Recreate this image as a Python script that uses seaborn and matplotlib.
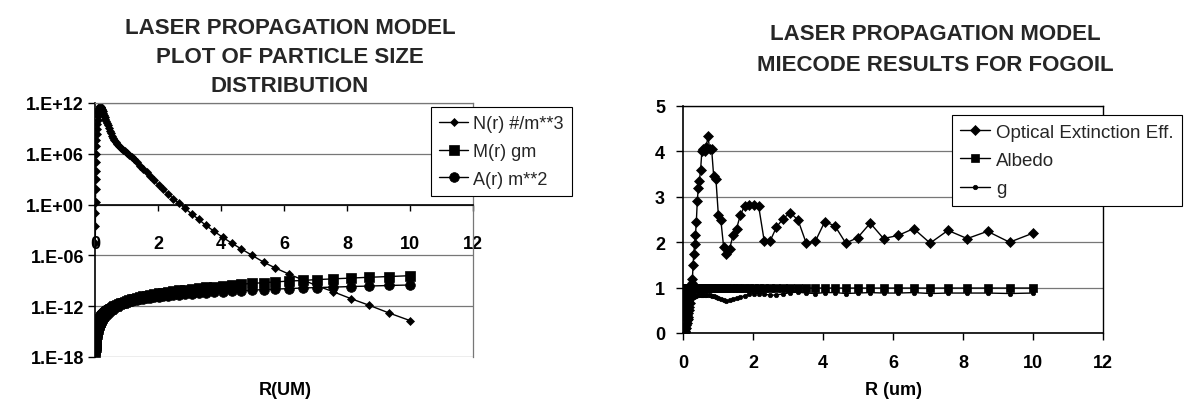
import matplotlib
matplotlib.use("Agg")
import matplotlib.pyplot as plt
import matplotlib.ticker as mticker
import pandas as pd
import seaborn as sns

sns.set_theme(style="white")
plt.rcParams["font.family"] = ["Liberation Sans", "DejaVu Sans"]

# ---------------- data ----------------
r_um = [0.010, 0.012, 0.014, 0.016, 0.019, 0.022, 0.025, 0.029, 0.034, 0.039,
        0.045, 0.052, 0.060, 0.069, 0.080, 0.092, 0.101, 0.109, 0.117, 0.125,
        0.134, 0.144, 0.154, 0.165, 0.177, 0.190, 0.203, 0.218, 0.234, 0.251,
        0.269, 0.288, 0.309, 0.331, 0.355, 0.381, 0.408, 0.437, 0.469, 0.503,
        0.539, 0.578, 0.619, 0.664, 0.712, 0.763, 0.818, 0.877, 0.940, 1.010,
        1.08, 1.16, 1.24, 1.33, 1.43, 1.53, 1.64, 1.76, 1.88, 2.02,
        2.16, 2.32, 2.49, 2.67, 2.86, 3.07, 3.29, 3.52, 3.78, 4.05,
        4.34, 4.65, 4.99, 5.35, 5.73, 6.15, 6.59, 7.06, 7.57, 8.12,
        8.70, 9.33, 10.0]

N_per_m3 = [3.2e-5, 3.2e-3, 0.1, 2.0, 63, 1.0e3, 1.0e4, 1.0e5, 1.0e6, 7.9e6,
            4.0e7, 2.0e8, 7.9e8, 3.2e9, 1.0e10, 3.2e10, 6.3e10, 1.0e11, 1.6e11, 2.2e11,
            2.8e11, 3.5e11, 4.0e11, 4.0e11, 3.5e11, 3.2e11, 2.5e11, 2.0e11, 1.4e11, 1.0e11,
            6.3e10, 4.0e10, 2.5e10, 1.4e10, 7.9e9, 4.5e9, 2.5e9, 1.1e9, 5.0e8, 2.5e8,
            1.3e8, 7.1e7, 4.0e7, 2.2e7, 1.3e7, 7.9e6, 5.0e6, 3.2e6, 2.2e6, 1.4e6,
            7.9e5, 4.5e5, 2.2e5, 1.0e5, 4.0e4, 1.6e4, 6.3e3, 2.2e3, 7.9e2, 2.0e2,
            63, 18, 5.0, 1.4, 0.35, 0.079, 0.018, 3.5e-3, 7.1e-4, 1.4e-4,
            2.8e-5, 5.6e-6, 1.0e-6, 1.6e-7, 3.2e-8, 6.3e-9, 1.3e-9, 2.5e-10, 5.0e-11, 7.9e-12,
            1.3e-12, 1.6e-13, 2.0e-14]

M_gm = [4.0e-18, 6.9e-18, 1.1e-17, 1.6e-17, 2.8e-17, 4.3e-17, 6.2e-17, 9.8e-17, 1.5e-16, 2.3e-16,
        3.6e-16, 5.6e-16, 8.5e-16, 1.3e-15, 2.0e-15, 3.1e-15, 4.1e-15, 5.1e-15, 6.3e-15, 7.8e-15,
        9.5e-15, 1.2e-14, 1.4e-14, 1.8e-14, 2.2e-14, 2.8e-14, 3.3e-14, 4.1e-14, 5.1e-14, 6.3e-14,
        7.8e-14, 9.5e-14, 1.2e-13, 1.4e-13, 1.8e-13, 2.2e-13, 2.7e-13, 3.3e-13, 4.1e-13, 5.1e-13,
        6.3e-13, 7.8e-13, 9.5e-13, 1.2e-12, 1.4e-12, 1.8e-12, 2.2e-12, 2.7e-12, 3.3e-12, 4.1e-12,
        5.0e-12, 6.2e-12, 7.6e-12, 9.3e-12, 1.2e-11, 1.4e-11, 1.8e-11, 2.2e-11, 2.6e-11, 3.3e-11,
        4.0e-11, 5.0e-11, 6.2e-11, 7.6e-11, 9.3e-11, 1.1e-10, 1.4e-10, 1.7e-10, 2.1e-10, 2.6e-10,
        3.2e-10, 4.0e-10, 4.9e-10, 6.0e-10, 7.4e-10, 9.3e-10, 1.1e-9, 1.4e-9, 1.7e-9, 2.1e-9,
        2.6e-9, 3.2e-9, 4.0e-9]

A_m2 = [3.2e-16, 4.6e-16, 6.2e-16, 8.1e-16, 1.1e-15, 1.5e-15, 2.0e-15, 2.6e-15, 3.6e-15, 4.8e-15,
        6.4e-15, 8.5e-15, 1.1e-14, 1.5e-14, 2.0e-14, 2.7e-14, 3.2e-14, 3.7e-14, 4.3e-14, 4.9e-14,
        5.6e-14, 6.5e-14, 7.5e-14, 8.6e-14, 9.8e-14, 1.1e-13, 1.3e-13, 1.5e-13, 1.7e-13, 2.0e-13,
        2.3e-13, 2.6e-13, 3.0e-13, 3.4e-13, 4.0e-13, 4.6e-13, 5.2e-13, 6.0e-13, 6.9e-13, 7.9e-13,
        9.1e-13, 1.05e-12, 1.2e-12, 1.4e-12, 1.6e-12, 1.8e-12, 2.1e-12, 2.4e-12, 2.8e-12, 3.2e-12,
        3.7e-12, 4.2e-12, 4.8e-12, 5.6e-12, 6.4e-12, 7.4e-12, 8.5e-12, 9.8e-12, 1.1e-11, 1.3e-11,
        1.5e-11, 1.7e-11, 1.9e-11, 2.2e-11, 2.6e-11, 3.0e-11, 3.4e-11, 3.9e-11, 4.5e-11, 5.2e-11,
        6.0e-11, 6.8e-11, 7.9e-11, 9.1e-11, 1.05e-10, 1.2e-10, 1.4e-10, 1.6e-10, 1.8e-10, 2.1e-10,
        2.4e-10, 2.8e-10, 3.2e-10]

Q_ext = [0.0, 0.0, 0.0, 0.0, 0.0, 0.0, 0.0, 0.0, 0.01, 0.01,
         0.02, 0.03, 0.05, 0.08, 0.12, 0.18, 0.23, 0.28, 0.33, 0.39,
         0.30, 0.36, 0.43, 0.50, 0.58, 0.67, 0.77, 0.88, 1.00, 1.10,
         1.20, 1.50, 1.75, 1.95, 2.15, 2.45, 2.90, 3.20, 3.35, 3.60,
         4.00, 4.05, 4.00, 4.10, 4.33, 4.05, 4.05, 3.45, 3.40, 2.60,
         2.50, 1.90, 1.75, 1.85, 2.15, 2.30, 2.60, 2.80, 2.82, 2.82,
         2.80, 2.03, 2.03, 2.33, 2.52, 2.65, 2.48, 1.98, 2.02, 2.45,
         2.36, 1.98, 2.10, 2.42, 2.08, 2.15, 2.30, 1.98, 2.26, 2.08,
         2.24, 2.00, 2.20]

albedo = [0.45, 0.55, 0.62, 0.68, 0.75, 0.80, 0.85, 0.89, 0.92, 0.94,
          0.96, 0.97, 0.98, 0.985, 0.99, 0.99, 1.0, 1.0, 1.0, 1.0,
          1.0, 1.0, 1.0, 1.0, 1.0, 1.0, 1.0, 1.0, 1.0, 1.0,
          1.0, 1.0, 1.0, 1.0, 1.0, 1.0, 1.0, 1.0, 1.0, 1.0,
          1.0, 1.0, 1.0, 1.0, 1.0, 1.0, 1.0, 1.0, 1.0, 1.0,
          1.0, 1.0, 1.0, 1.0, 1.0, 0.995, 0.995, 0.995, 0.995, 0.995,
          0.995, 0.995, 0.99, 0.99, 0.99, 0.99, 0.99, 0.99, 0.99, 0.99,
          0.99, 0.99, 0.99, 0.99, 0.99, 0.99, 0.99, 0.99, 0.99, 0.99,
          0.99, 0.99, 0.99]

g_asym = [0.0, 0.0, 0.0, 0.0, 0.0, 0.0, 0.0, 0.0, 0.01, 0.01,
          0.02, 0.03, 0.04, 0.06, 0.08, 0.11, 0.14, 0.17, 0.21, 0.25,
          0.30, 0.36, 0.45, 0.52, 0.58, 0.64, 0.68, 0.72, 0.74, 0.76,
          0.78, 0.79, 0.80, 0.81, 0.82, 0.82, 0.83, 0.83, 0.83, 0.84,
          0.84, 0.84, 0.84, 0.84, 0.84, 0.83, 0.82, 0.81, 0.79, 0.77,
          0.75, 0.73, 0.71, 0.72, 0.74, 0.77, 0.79, 0.82, 0.85, 0.87,
          0.87, 0.86, 0.83, 0.84, 0.86, 0.89, 0.90, 0.88, 0.87, 0.89,
          0.89, 0.87, 0.88, 0.89, 0.88, 0.88, 0.89, 0.87, 0.88, 0.88,
          0.88, 0.87, 0.88]

x_ticks = [0, 2, 4, 6, 8, 10, 12]
left_yticks = [1e-18, 1e-12, 1e-6, 1e0, 1e6, 1e12]
left_ytick_labels = ["1.E-18", "1.E-12", "1.E-06", "1.E+00", "1.E+06", "1.E+12"]
right_yticks = [0, 1, 2, 3, 4, 5]

left_title = "LASER PROPAGATION MODEL\nPLOT OF PARTICLE SIZE\nDISTRIBUTION"
right_title = "LASER PROPAGATION MODEL\nMIECODE RESULTS FOR FOGOIL"

# ---------------- figure ----------------
W, H = 1202, 406
fig = plt.figure(figsize=(W / 100, H / 100), dpi=100)
fig.patch.set_facecolor("white")

axL = fig.add_axes([95 / W, 1 - 358 / H, 378 / W, 254 / H])
axR = fig.add_axes([683 / W, 1 - 334 / H, 420 / W, 227 / H])

left = pd.DataFrame({"r": r_um, "N": N_per_m3, "M": M_gm, "A": A_m2})
right = pd.DataFrame({"r": r_um, "Q": Q_ext, "W": albedo, "G": g_asym})

common = dict(color="black", linewidth=1.0, markeredgecolor="black",
              markeredgewidth=0.5, estimator=None, sort=False)

axL.set_yscale("log")
sns.lineplot(data=left, x="r", y="N", ax=axL, marker="D", markersize=4,
             label="N(r) #/m**3", **common)
sns.lineplot(data=left, x="r", y="M", ax=axL, marker="s", markersize=6.5,
             label="M(r) gm", **common)
sns.lineplot(data=left, x="r", y="A", ax=axL, marker="o", markersize=7,
             label="A(r) m**2", **common)

sns.lineplot(data=right, x="r", y="Q", ax=axR, marker="D", markersize=5.5,
             label="Optical Extinction Eff.", **common)
sns.lineplot(data=right, x="r", y="W", ax=axR, marker="s", markersize=5.5,
             label="Albedo", **common)
sns.lineplot(data=right, x="r", y="G", ax=axR, marker="o", markersize=3.2,
             label="g", **common)

# ---- left axes styling ----
axL.set_xlim(0, 12)
axL.set_ylim(1e-18, 1e12)
axL.set_yticks(left_yticks)
axL.yaxis.set_major_formatter(mticker.FixedFormatter(left_ytick_labels))
axL.yaxis.set_minor_locator(mticker.NullLocator())
axL.set_xticks(x_ticks)
axL.grid(axis="y", color="#777777", linewidth=0.9)
axL.grid(axis="x", visible=False)
axL.spines["bottom"].set_position(("data", 1.0))
for s in ["left", "bottom"]:
    axL.spines[s].set_color("black")
    axL.spines[s].set_linewidth(1.2)
for s in ["top", "right"]:
    axL.spines[s].set_color("#777777")
    axL.spines[s].set_linewidth(0.9)
axL.tick_params(axis="x", bottom=True, direction="out", length=4, width=1,
                pad=18, labelsize=13, colors="black")
axL.tick_params(axis="y", left=True, direction="out", length=5, width=1,
                pad=3, labelsize=13, colors="black")
axL.set_ylabel("")
axL.set_xlabel("R(UM)", fontsize=13, fontweight="bold", color="black",
               va="center")
axL.xaxis.set_label_coords(0.503, -(391 - 358) / 254)

# ---- right axes styling ----
axR.set_xlim(0, 12)
axR.set_ylim(0, 5)
axR.set_xticks(x_ticks)
axR.set_yticks(right_yticks)
axR.grid(axis="y", color="#777777", linewidth=0.9)
axR.grid(axis="x", visible=False)
for s in ["left", "bottom", "top", "right"]:
    axR.spines[s].set_color("black")
    axR.spines[s].set_linewidth(1.2 if s in ("left", "bottom") else 1.0)
axR.tick_params(axis="x", bottom=True, direction="out", length=5, width=1,
                pad=10, labelsize=13, colors="black")
axR.tick_params(axis="y", left=True, direction="out", length=5, width=1,
                pad=8, labelsize=13, colors="black")
axR.set_ylabel("")
axR.set_xlabel("R (um)", fontsize=13, fontweight="bold", color="black",
               va="center")
axR.xaxis.set_label_coords(0.502, -(391 - 334) / 227)

for ax in (axL, axR):
    for lab in ax.get_xticklabels() + ax.get_yticklabels():
        lab.set_fontweight("bold")

# ---- legends ----
legL = axL.legend(loc="upper left", bbox_to_anchor=(431 / W, 1 - 108 / H),
                  bbox_transform=fig.transFigure, frameon=True, fancybox=False,
                  edgecolor="black", framealpha=1, fontsize=13,
                  handlelength=1.6, handletextpad=0.3, labelspacing=0.6,
                  borderpad=0.45, borderaxespad=0)
legL.get_frame().set_linewidth(0.8)
legR = axR.legend(loc="upper left", bbox_to_anchor=(952 / W, 1 - 116 / H),
                  bbox_transform=fig.transFigure, frameon=True, fancybox=False,
                  edgecolor="black", framealpha=1, fontsize=13.5,
                  handlelength=1.6, handletextpad=0.3, labelspacing=0.6,
                  borderpad=0.45, borderaxespad=0)
legR.get_frame().set_linewidth(0.8)

# ---- titles ----
fig.text(290 / W, 1 - 57.5 / H, left_title, ha="center", va="center",
         fontsize=16, fontweight="bold", linespacing=1.5)
fig.text(935 / W, 1 - 50 / H, right_title, ha="center", va="center",
         fontsize=16, fontweight="bold", linespacing=1.65)

fig.savefig("out.png", dpi=100, facecolor="white")
